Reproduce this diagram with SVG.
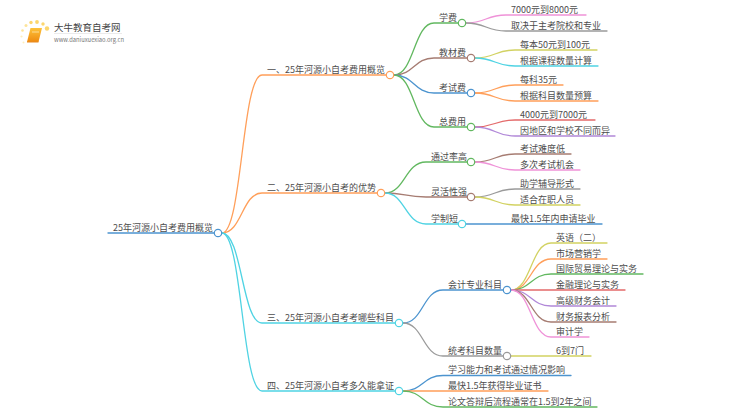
<svg xmlns="http://www.w3.org/2000/svg" width="750" height="410" viewBox="0 0 750 410">
<defs>
<linearGradient id="bk" x1="0" y1="0" x2="0" y2="1"><stop offset="0" stop-color="#fdc23a"/><stop offset="1" stop-color="#ee8a10"/></linearGradient>
</defs>
<style>
text{font-family:"Noto Sans CJK SC","Noto Sans",sans-serif;font-size:9px;fill:#4d4d4d;transform:translateY(.6px)}
.c{fill:none;stroke-width:1.3;stroke-linecap:round}
.n{fill:#fff;stroke-width:1.2}
.or{stroke:#ff9f5a}.gn{stroke:#62b860}.br{stroke:#a67c72}.bl{stroke:#4c94cf}.cy{stroke:#4fd3e3}.pk{stroke:#ef92d8}.gy{stroke:#9a9a9a}.ol{stroke:#d2d262}.rd{stroke:#e46a6a}.pu{stroke:#b188d8}.lg{stroke:#8ad88a}
</style>
<rect width="750" height="410" fill="#fff"/>
<g id="logo">
<circle cx="47" cy="28.500" r="2.200" fill="#fcd66e"/><circle cx="43" cy="24" r="1.700" fill="#fcd66e"/><circle cx="37" cy="22" r="1.900" fill="#fcd66e"/><circle cx="31" cy="22.500" r="1.700" fill="#fcd66e"/><circle cx="26" cy="25.500" r="1.500" fill="#fde49a"/><circle cx="22.500" cy="30.500" r="1.300" fill="#fde49a"/><circle cx="21.500" cy="36.500" r="1.100" fill="#feeebc"/><circle cx="23.500" cy="42.500" r="1" fill="#feeebc"/>
<path d="M30.500 28H42L38.500 42H27Z" fill="url(#bk)"/>
<path d="M32 32H39" stroke="#fde9b0" stroke-width="0.800"/>
<path d="M27 42H38.500" fill="none" stroke="#e88a20"/>
<text x="54" y="30.500" style="font-size:9.500px;fill:#444">大牛教育自考网</text>
<path d="M54 33.500H122" stroke="#ddd" stroke-width="0.600"/>
<text x="54" y="41" style="font-size:5.800px;fill:#777">www.daniuxuexiao.org.cn</text>
</g>
<g id="connectors">
<path class="c bl" d="M108 233H218"/>
<path class="c or" d="M222 233C242 233 242 75 262 75H390"/>
<path class="c or" d="M222 233C242 233 242 193 262 193H381"/>
<path class="c cy" d="M222 233C242 233 242 323 262 323H399"/>
<path class="c cy" d="M222 233C242 233 242 391 262 391H399"/>
<path class="c gn" d="M394 75C414 75 414 23 434 23H462"/>
<path class="c br" d="M394 75C414 75 414 58 434 58H471"/>
<path class="c bl" d="M394 75C414 75 414 93 434 93H471"/>
<path class="c gn" d="M394 75C414 75 414 127 434 127H471"/>
<path class="c pk" d="M466 23C486 23 486 15 506 15H586"/>
<path class="c gy" d="M466 23C486 23 486 31 506 31H607"/>
<path class="c ol" d="M475 58C495 58 495 50 515 50H597"/>
<path class="c cy" d="M475 58C495 58 495 66 515 66H598"/>
<path class="c or" d="M475 93C495 93 495 85 515 85H563"/>
<path class="c or" d="M475 93C495 93 495 101 515 101H598"/>
<path class="c rd" d="M475 127C495 127 495 120 515 120H595"/>
<path class="c pu" d="M475 127C495 127 495 136 515 136H615"/>
<path class="c gn" d="M385 193C405 193 405 162 426 162H471"/>
<path class="c br" d="M385 193C405 193 405 197 426 197H471"/>
<path class="c cy" d="M385 193C405 193 405 224 426 224H462"/>
<path class="c br" d="M475 162C495 162 495 154 515 154H571"/>
<path class="c pk" d="M475 162C495 162 495 170 515 170H580"/>
<path class="c gy" d="M475 197C495 197 495 189 515 189H580"/>
<path class="c ol" d="M475 197C495 197 495 205 515 205H580"/>
<path class="c bl" d="M466 224H602"/>
<path class="c bl" d="M403 323C423 323 423 290 443 290H507"/>
<path class="c gy" d="M403 323C423 323 423 356 443 356H507"/>
<path class="c ol" d="M511 290C531 290 531 243 551 243H607"/>
<path class="c or" d="M511 290C531 290 531 259 551 259H607"/>
<path class="c gn" d="M511 290C531 290 531 274 551 274H643"/>
<path class="c rd" d="M511 290H625"/>
<path class="c pu" d="M511 290C531 290 531 306 551 306H616"/>
<path class="c br" d="M511 290C531 290 531 322 551 322H616"/>
<path class="c pk" d="M511 290C531 290 531 337 551 337H589"/>
<path class="c ol" d="M511 356H591"/>
<path class="c bl" d="M403 391C423 391 423 375.500 443 375.500H571"/>
<path class="c or" d="M403 391H548"/>
<path class="c gn" d="M403 391C423 391 423 407 443 407H597"/>
</g>
<g id="root"><circle class="n bl" cx="218" cy="233" r="3.700"/><text x="113" y="230">25年河源小自考费用概览</text></g>
<g id="b1"><circle class="n or" cx="390" cy="75" r="3.700"/><text x="267" y="72">一、25年河源小自考费用概览</text></g>
<g id="b1-1"><circle class="n gn" cx="462" cy="23" r="3.700"/><text x="439" y="20">学费</text></g>
<g id="b1-2"><circle class="n br" cx="471" cy="58" r="3.700"/><text x="439" y="55">教材费</text></g>
<g id="b1-3"><circle class="n bl" cx="471" cy="93" r="3.700"/><text x="439" y="90">考试费</text></g>
<g id="b1-4"><circle class="n gn" cx="471" cy="127" r="3.700"/><text x="439" y="124">总费用</text></g>
<g id="l1"><text x="511" y="12">7000元到8000元</text></g>
<g id="l2"><text x="511" y="28">取决于主考院校和专业</text></g>
<g id="l3"><text x="520" y="47">每本50元到100元</text></g>
<g id="l4"><text x="520" y="63">根据课程数量计算</text></g>
<g id="l5"><text x="520" y="82">每科35元</text></g>
<g id="l6"><text x="520" y="98">根据科目数量预算</text></g>
<g id="l7"><text x="520" y="117">4000元到7000元</text></g>
<g id="l8"><text x="520" y="133">因地区和学校不同而异</text></g>
<g id="b2"><circle class="n or" cx="381" cy="193" r="3.700"/><text x="267" y="190">二、25年河源小自考的优势</text></g>
<g id="b2-1"><circle class="n gn" cx="471" cy="162" r="3.700"/><text x="431" y="159">通过率高</text></g>
<g id="b2-2"><circle class="n br" cx="471" cy="197" r="3.700"/><text x="431" y="194">灵活性强</text></g>
<g id="b2-3"><circle class="n cy" cx="462" cy="224" r="3.700"/><text x="431" y="221">学制短</text></g>
<g id="l9"><text x="520" y="151">考试难度低</text></g>
<g id="l10"><text x="520" y="167">多次考试机会</text></g>
<g id="l11"><text x="520" y="186">助学辅导形式</text></g>
<g id="l12"><text x="520" y="202">适合在职人员</text></g>
<g id="l13"><text x="511" y="221">最快1.5年内申请毕业</text></g>
<g id="b3"><circle class="n cy" cx="399" cy="323" r="3.700"/><text x="267" y="320">三、25年河源小自考考哪些科目</text></g>
<g id="b3-1"><circle class="n bl" cx="507" cy="290" r="3.700"/><text x="448" y="287">会计专业科目</text></g>
<g id="b3-2"><circle class="n gy" cx="507" cy="356" r="3.700"/><text x="448" y="353">统考科目数量</text></g>
<g id="l14"><text x="556" y="240">英语（二）</text></g>
<g id="l15"><text x="556" y="256">市场营销学</text></g>
<g id="l16"><text x="556" y="271">国际贸易理论与实务</text></g>
<g id="l17"><text x="556" y="287">金融理论与实务</text></g>
<g id="l18"><text x="556" y="303">高级财务会计</text></g>
<g id="l19"><text x="556" y="319">财务报表分析</text></g>
<g id="l20"><text x="556" y="334">审计学</text></g>
<g id="l21"><text x="556" y="353">6到7门</text></g>
<g id="b4"><circle class="n cy" cx="399" cy="391" r="3.700"/><text x="267" y="388">四、25年河源小自考多久能拿证</text></g>
<g id="l22"><text x="448" y="372.500">学习能力和考试通过情况影响</text></g>
<g id="l23"><text x="448" y="388">最快1.5年获得毕业证书</text></g>
<g id="l24"><text x="448" y="404">论文答辩后流程通常在1.5到2年之间</text></g>
</svg>
